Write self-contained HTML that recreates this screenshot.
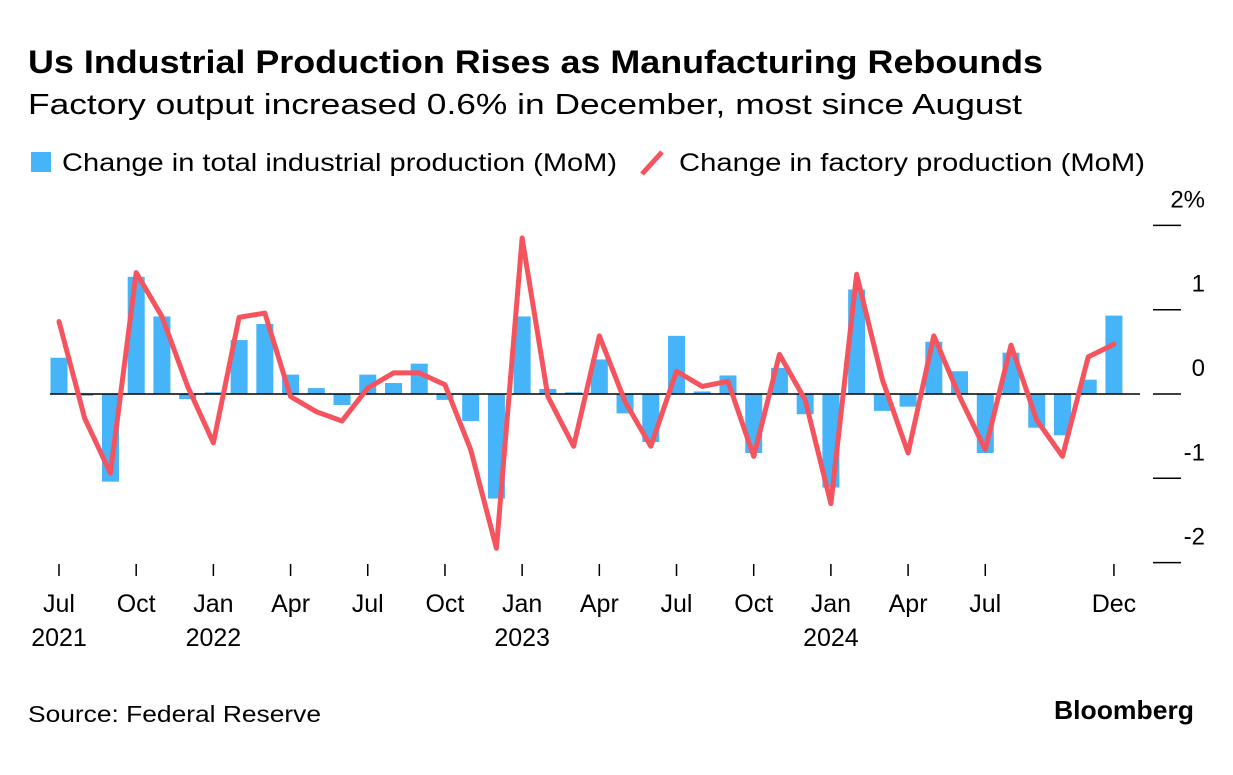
<!DOCTYPE html>
<html><head><meta charset="utf-8"><style>
body{margin:0;background:#fff;font-family:"Liberation Sans",sans-serif;}
</style></head><body>
<svg width="1233" height="770" xmlns="http://www.w3.org/2000/svg" font-family="Liberation Sans, sans-serif">
<text x="28" y="73" font-size="32" font-weight="bold" fill="#000" textLength="1015" lengthAdjust="spacingAndGlyphs">Us Industrial Production Rises as Manufacturing Rebounds</text>
<text x="28" y="114" font-size="29" fill="#000" textLength="994" lengthAdjust="spacingAndGlyphs">Factory output increased 0.6% in December, most since August</text>
<g>
<rect x="31" y="152" width="20" height="20" fill="#45b4f9"/>
<text x="62" y="171" font-size="25" fill="#000" textLength="555" lengthAdjust="spacingAndGlyphs">Change in total industrial production (MoM)</text>
<line x1="642" y1="174" x2="662" y2="152" stroke="#f5545f" stroke-width="5"/>
<text x="679" y="171" font-size="25" fill="#000" textLength="466" lengthAdjust="spacingAndGlyphs">Change in factory production (MoM)</text>
</g>
<g id="plot"></g>
<text x="28" y="722" font-size="23" fill="#000" textLength="293" lengthAdjust="spacingAndGlyphs">Source: Federal Reserve</text>
<text x="1194" y="719" font-size="26" font-weight="bold" text-anchor="end" fill="#000" textLength="140" lengthAdjust="spacingAndGlyphs">Bloomberg</text>
</svg>
<script>
const totalIP=[0.43,-0.02,-1.04,1.39,0.92,-0.06,0.02,0.64,0.83,0.23,0.07,-0.13,0.23,0.13,0.36,-0.07,-0.32,-1.24,0.92,0.06,0.02,0.41,-0.23,-0.57,0.69,0.03,0.22,-0.70,0.31,-0.24,-1.11,1.24,-0.20,-0.15,0.62,0.27,-0.70,0.49,-0.40,-0.49,0.17,0.93];
const factory=[0.86,-0.29,-0.94,1.44,0.92,0.09,-0.58,0.91,0.96,-0.03,-0.21,-0.32,0.07,0.25,0.25,0.11,-0.66,-1.83,1.85,-0.03,-0.62,0.69,-0.09,-0.62,0.27,0.09,0.15,-0.74,0.47,-0.07,-1.30,1.42,0.17,-0.70,0.69,-0.03,-0.66,0.58,-0.31,-0.74,0.44,0.59];
const yTicks=[2,1,0,-1,-2];
const yTickLabels=["2%","1","0","-1","-2"];
const xTickIdx=[0,3,6,9,12,15,18,21,24,27,30,33,36,41];
const xTickLabels=["Jul","Oct","Jan","Apr","Jul","Oct","Jan","Apr","Jul","Oct","Jan","Apr","Jul","Dec"];
const yearIdx=[0,6,18,30];
const yearLabels=["2021","2022","2023","2024"];
const NS="http://www.w3.org/2000/svg";
const g=document.getElementById('plot');
const x=i=>59+i*25.73;
const y=v=>394-v*84.3;
function mk(t,a){const e=document.createElementNS(NS,t);for(const k in a)e.setAttribute(k,a[k]);g.appendChild(e);return e;}
totalIP.forEach((v,i)=>{
 const r=mk('rect',{x:x(i)-8.5,y:Math.min(y(v),y(0)),width:17,height:Math.abs(y(v)-y(0)),fill:'#45b4f9'});
 
 
});
const z=mk('line',{x1:50,x2:1140,y1:y(0),y2:y(0),stroke:'#000','stroke-width':1.5});


const p=mk('polyline',{points:factory.map((v,i)=>x(i)+','+y(v)).join(' '),fill:'none',stroke:'#f5545f','stroke-width':5,'stroke-linejoin':'round','stroke-linecap':'round'});


yTicks.forEach((v,i)=>{
 const l=mk('line',{x1:1153,x2:1181,y1:y(v),y2:y(v),stroke:'#000','stroke-width':1.5});
 
 
 const t=mk('text',{x:1205,y:y(v)-18,'font-size':24,'text-anchor':'end',fill:'#000'});
 t.textContent=yTickLabels[i];
 
 
});
xTickIdx.forEach((idx,i)=>{
 const l=mk('line',{x1:x(idx),x2:x(idx),y1:564,y2:576,stroke:'#000','stroke-width':1.5});
 
 
 const t=mk('text',{x:x(idx),y:612,'font-size':25,'text-anchor':'middle',fill:'#000'});
 t.textContent=xTickLabels[i];
 
 
});
yearIdx.forEach((idx,i)=>{
 const t=mk('text',{x:x(idx),y:646,'font-size':25,'text-anchor':'middle',fill:'#000'});
 t.textContent=yearLabels[i];
 
 
});
</script>
</body></html>
